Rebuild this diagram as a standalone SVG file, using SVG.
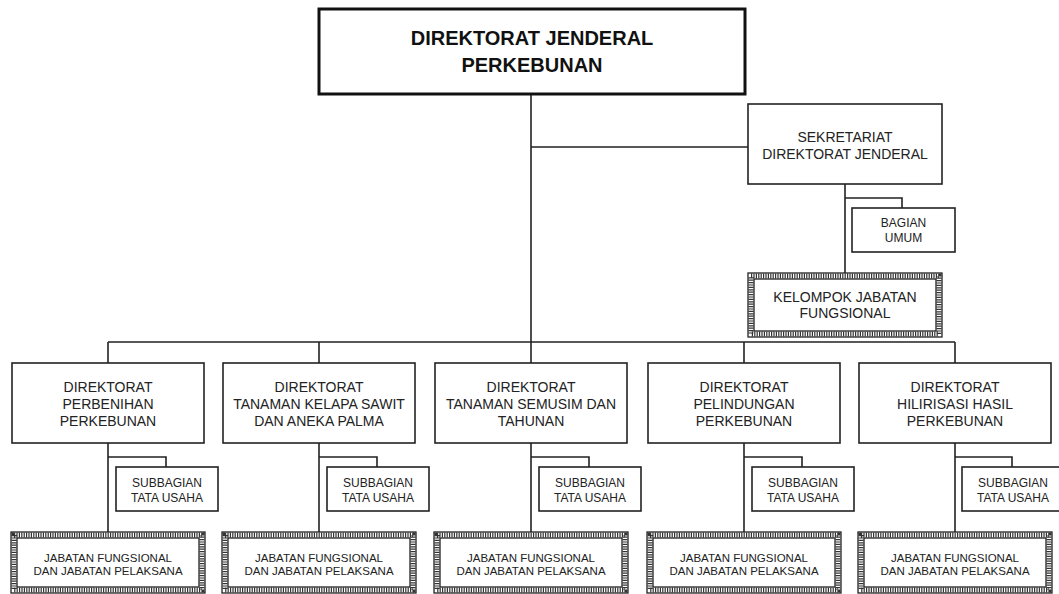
<svg xmlns="http://www.w3.org/2000/svg" width="1059" height="594" viewBox="0 0 1059 594">
<style>
  .box { fill: #fff; stroke: #222; stroke-width: 1.6; }
  .main { fill: #fff; stroke: #111; stroke-width: 3; }
  .ln { fill: none; stroke: #222; stroke-width: 1.6; }
  .hb { fill: none; stroke: #222; stroke-width: 1.3; }
  .hatch { fill: none; stroke: #333; stroke-width: 5; stroke-dasharray: 1.2 1.2; }
  text { font-family: "Liberation Sans", Arial, sans-serif; fill: #222; text-anchor: middle; }
  .t0 { font-size: 20px; font-weight: bold; fill: #111; }
  .t1 { font-size: 14px; }
  .t2 { font-size: 12px; }
  .t3 { font-size: 11.5px; }
</style>
<rect width="1059" height="594" fill="#fff"/>
<g id="connectors">
  <path class="ln" d="M531,94 V363 M531,147 H748 M845,184 V273 M845,198 H902 V208 M108,342 H955 M108,342 V363 M319,342 V363 M744,342 V363 M955,342 V363"/>
  <path class="ln" d="M108,443 V532 M108,457 H166 V467"/>
  <path class="ln" d="M319,443 V532 M319,457 H377 V467"/>
  <path class="ln" d="M531,443 V532 M531,457 H589 V467"/>
  <path class="ln" d="M744,443 V532 M744,457 H802 V467"/>
  <path class="ln" d="M955,443 V532 M955,457 H1012 V467"/>
</g>
<g id="dirjen">
  <rect class="main" x="319" y="9" width="426" height="85"/>
  <text class="t0" x="532" y="45">DIREKTORAT JENDERAL</text>
  <text class="t0" x="532" y="72">PERKEBUNAN</text>
</g>
<g id="sekretariat">
  <rect class="box" x="748" y="104" width="194" height="80"/>
  <text class="t1" x="845" y="142">SEKRETARIAT</text>
  <text class="t1" x="845" y="159">DIREKTORAT JENDERAL</text>
</g>
<g id="bagian-umum">
  <rect class="box" x="852" y="208" width="103" height="44"/>
  <text class="t2" x="903.5" y="227">BAGIAN</text>
  <text class="t2" x="903.5" y="242">UMUM</text>
</g>
<g id="kelompok">
  <rect class="hb" x="748" y="273" width="194" height="64"/>
  <rect class="hatch" x="751" y="276" width="188" height="58"/>
  <rect class="hb" x="754" y="279" width="182" height="52"/>
  <text class="t1" x="845" y="302">KELOMPOK JABATAN</text>
  <text class="t1" x="845" y="318">FUNGSIONAL</text>
</g>
<g id="dir-perbenihan">
  <rect class="box" x="12" y="363" width="192" height="80"/>
  <text class="t1" x="108" y="392">DIREKTORAT</text>
  <text class="t1" x="108" y="409">PERBENIHAN</text>
  <text class="t1" x="108" y="426">PERKEBUNAN</text>
</g>
<g id="dir-kelapa-sawit">
  <rect class="box" x="223" y="363" width="192" height="80"/>
  <text class="t1" x="319" y="392">DIREKTORAT</text>
  <text class="t1" x="319" y="409">TANAMAN KELAPA SAWIT</text>
  <text class="t1" x="319" y="426">DAN ANEKA PALMA</text>
</g>
<g id="dir-semusim">
  <rect class="box" x="435" y="363" width="192" height="80"/>
  <text class="t1" x="531" y="392">DIREKTORAT</text>
  <text class="t1" x="531" y="409">TANAMAN SEMUSIM DAN</text>
  <text class="t1" x="531" y="426">TAHUNAN</text>
</g>
<g id="dir-perlindungan">
  <rect class="box" x="648" y="363" width="192" height="80"/>
  <text class="t1" x="744" y="392">DIREKTORAT</text>
  <text class="t1" x="744" y="409">PELINDUNGAN</text>
  <text class="t1" x="744" y="426">PERKEBUNAN</text>
</g>
<g id="dir-hilirisasi">
  <rect class="box" x="859" y="363" width="192" height="80"/>
  <text class="t1" x="955" y="392">DIREKTORAT</text>
  <text class="t1" x="955" y="409">HILIRISASI HASIL</text>
  <text class="t1" x="955" y="426">PERKEBUNAN</text>
</g>
<g id="sub-1">
  <rect class="box" x="116" y="467" width="102" height="44"/>
  <text class="t2" x="167" y="487">SUBBAGIAN</text>
  <text class="t2" x="167" y="502">TATA USAHA</text>
</g>
<g id="sub-2">
  <rect class="box" x="327" y="467" width="102" height="44"/>
  <text class="t2" x="378" y="487">SUBBAGIAN</text>
  <text class="t2" x="378" y="502">TATA USAHA</text>
</g>
<g id="sub-3">
  <rect class="box" x="539" y="467" width="102" height="44"/>
  <text class="t2" x="590" y="487">SUBBAGIAN</text>
  <text class="t2" x="590" y="502">TATA USAHA</text>
</g>
<g id="sub-4">
  <rect class="box" x="752" y="467" width="102" height="44"/>
  <text class="t2" x="803" y="487">SUBBAGIAN</text>
  <text class="t2" x="803" y="502">TATA USAHA</text>
</g>
<g id="sub-5">
  <rect class="box" x="962" y="467" width="102" height="44"/>
  <text class="t2" x="1013" y="487">SUBBAGIAN</text>
  <text class="t2" x="1013" y="502">TATA USAHA</text>
</g>
<g id="jab-1">
  <rect class="hb" x="11" y="532" width="194" height="61"/>
  <rect class="hatch" x="14" y="535" width="188" height="55"/>
  <rect class="hb" x="17" y="538" width="182" height="49"/>
  <text class="t3" x="108" y="562">JABATAN FUNGSIONAL</text>
  <text class="t3" x="108" y="575">DAN JABATAN PELAKSANA</text>
</g>
<g id="jab-2">
  <rect class="hb" x="222" y="532" width="194" height="61"/>
  <rect class="hatch" x="225" y="535" width="188" height="55"/>
  <rect class="hb" x="228" y="538" width="182" height="49"/>
  <text class="t3" x="319" y="562">JABATAN FUNGSIONAL</text>
  <text class="t3" x="319" y="575">DAN JABATAN PELAKSANA</text>
</g>
<g id="jab-3">
  <rect class="hb" x="434" y="532" width="194" height="61"/>
  <rect class="hatch" x="437" y="535" width="188" height="55"/>
  <rect class="hb" x="440" y="538" width="182" height="49"/>
  <text class="t3" x="531" y="562">JABATAN FUNGSIONAL</text>
  <text class="t3" x="531" y="575">DAN JABATAN PELAKSANA</text>
</g>
<g id="jab-4">
  <rect class="hb" x="647" y="532" width="194" height="61"/>
  <rect class="hatch" x="650" y="535" width="188" height="55"/>
  <rect class="hb" x="653" y="538" width="182" height="49"/>
  <text class="t3" x="744" y="562">JABATAN FUNGSIONAL</text>
  <text class="t3" x="744" y="575">DAN JABATAN PELAKSANA</text>
</g>
<g id="jab-5">
  <rect class="hb" x="858" y="532" width="194" height="61"/>
  <rect class="hatch" x="861" y="535" width="188" height="55"/>
  <rect class="hb" x="864" y="538" width="182" height="49"/>
  <text class="t3" x="955" y="562">JABATAN FUNGSIONAL</text>
  <text class="t3" x="955" y="575">DAN JABATAN PELAKSANA</text>
</g>
</svg>
